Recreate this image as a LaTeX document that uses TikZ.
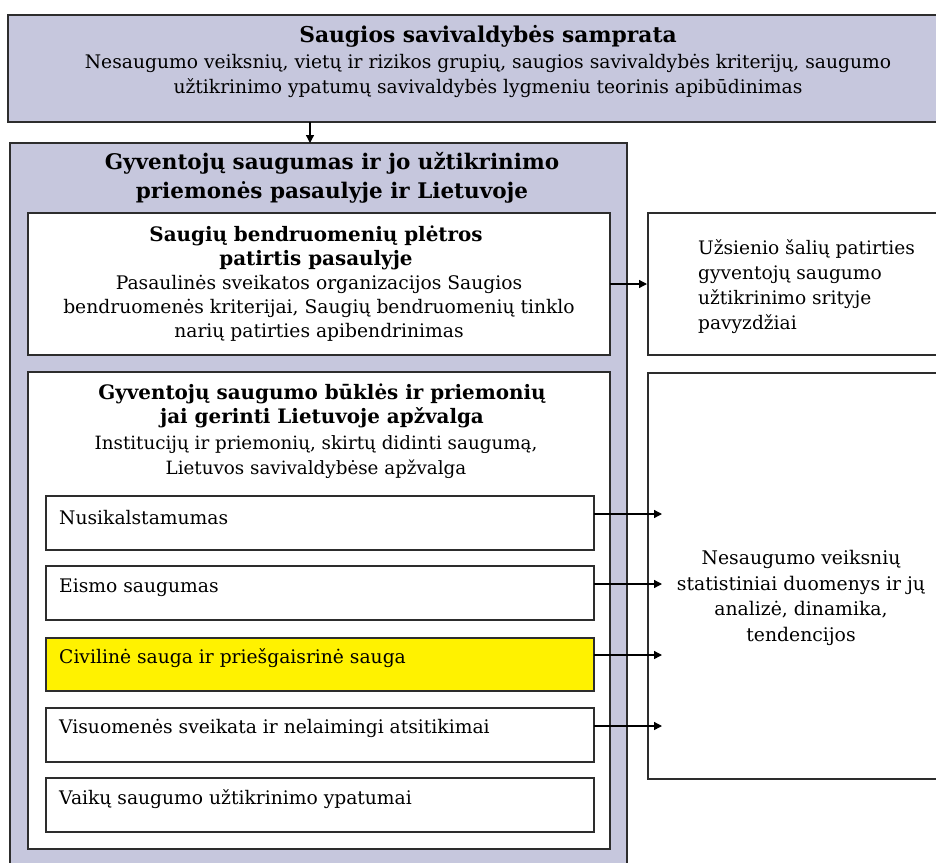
\documentclass[tikz,border=0pt]{standalone}
\usepackage{fontspec}
\setmainfont{DejaVu Serif}
\usetikzlibrary{arrows.meta}
\definecolor{lav}{RGB}{198,199,221}
\definecolor{ylw}{RGB}{255,242,0}
\definecolor{edge}{RGB}{45,45,45}
\tikzset{
  box/.style={draw=edge, line width=1.8pt, anchor=north west, inner sep=0pt, outer sep=0pt},
  lavbox/.style={box, fill=lav},
  whitebox/.style={box, fill=white, line width=1.5pt},
  subbox/.style={box, fill=white, line width=1.5pt},
  txt/.style={inner sep=0pt, align=center, font=\fontsize{18.7}{25}\selectfont},
  btxt/.style={inner sep=0pt, align=center, font=\fontsize{19.9}{24}\selectfont\bfseries},
  ltxt/.style={inner sep=0pt, anchor=west, font=\fontsize{18.7}{25}\selectfont},
  arr/.style={-{Triangle[length=8pt,width=8pt]}, line width=1.3pt, draw=black},
}
\begin{document}
\begin{tikzpicture}[x=1pt,y=-1pt]
\clip (0,0) rectangle (936,862);
\fill[white] (0,0) rectangle (936,862);
% top box
\node[lavbox, line width=2.2pt, minimum width=945pt, minimum height=107pt] (top) at (8,15) {};
\node[btxt, font=\fontsize{21.8}{25}\selectfont\bfseries] (toptitle) at (488,36) {Saugios savivaldybės samprata};
\node[txt] (toptext) at (488,76) {Nesaugumo veiksnių, vietų ir rizikos grupių, saugios savivaldybės kriterijų, saugumo\\užtikrinimo ypatumų savivaldybės lygmeniu teorinis apibūdinimas};
% main box
\node[lavbox, minimum width=617pt, minimum height=730pt] (main) at (10,143) {};
\node[btxt, font=\fontsize{21.5}{29}\selectfont\bfseries] (maintitle) at (332,178) {Gyventojų saugumas ir jo užtikrinimo\\priemonės pasaulyje ir Lietuvoje};
% inner box 1
\node[whitebox, minimum width=582pt, minimum height=142pt] (in1) at (28,213) {};
\node[btxt] (in1title) at (316,248) {Saugių bendruomenių plėtros\\patirtis pasaulyje};
\node[txt, font=\fontsize{18.7}{24}\selectfont] (in1text) at (319,308) {Pasaulinės sveikatos organizacijos Saugios\\bendruomenės kriterijai, Saugių bendruomenių tinklo\\narių patirties apibendrinimas};
% right box 1
\node[box, fill=white, minimum width=300pt, minimum height=142pt] (r1) at (648,213) {};
\node[txt, align=left, anchor=north west, font=\fontsize{18.6}{25}\selectfont] (r1text) at (698,239) {Užsienio šalių patirties\\gyventojų saugumo\\užtikrinimo srityje\\pavyzdžiai};
% inner box 2
\node[whitebox, minimum width=582pt, minimum height=477pt] (in2) at (28,372) {};
\node[btxt] (in2title) at (322,406) {Gyventojų saugumo būklės ir priemonių\\jai gerinti Lietuvoje apžvalga};
\node[txt, font=\fontsize{18.3}{25}\selectfont] (in2text) at (316,457) {Institucijų ir priemonių, skirtų didinti saugumą,\\Lietuvos savivaldybėse apžvalga};
% sub boxes
\node[subbox, minimum width=548pt, minimum height=54pt] (s1) at (46,496) {};
\node[ltxt] (s1t) at (59,518) {Nusikalstamumas};
\node[subbox, minimum width=548pt, minimum height=54pt] (s2) at (46,566) {};
\node[ltxt] (s2t) at (59,588) {Eismo saugumas};
\node[subbox, fill=ylw, minimum width=548pt, minimum height=53pt] (s3) at (46,638) {};
\node[ltxt] (s3t) at (59,658) {Civilinė sauga ir priešgaisrinė sauga};
\node[subbox, minimum width=548pt, minimum height=54pt] (s4) at (46,708) {};
\node[ltxt] (s4t) at (59,728) {Visuomenės sveikata ir nelaimingi atsitikimai};
\node[subbox, minimum width=548pt, minimum height=54pt] (s5) at (46,778) {};
\node[ltxt] (s5t) at (59,799) {Vaikų saugumo užtikrinimo ypatumai};
% right box 2
\node[box, fill=white, minimum width=300pt, minimum height=406pt] (r2) at (648,373) {};
\node[txt, font=\fontsize{18.8}{25.5}\selectfont] (r2text) at (801,598) {Nesaugumo veiksnių\\statistiniai duomenys ir jų\\analizė, dinamika,\\tendencijos};
% connectors
\coordinate (ta) at (310,143);
\draw[arr] (top.south -| ta) -- (ta);
\coordinate (ra) at (647,284);
\draw[arr] (in1.east |- ra) -- (ra);
\coordinate (c1) at (662,514);
\coordinate (c2) at (662,584);
\coordinate (c3) at (662,655);
\coordinate (c4) at (662,726);
\draw[arr] (s1.east |- c1) -- (c1);
\draw[arr] (s2.east |- c2) -- (c2);
\draw[arr] (s3.east |- c3) -- (c3);
\draw[arr] (s4.east |- c4) -- (c4);
\end{tikzpicture}
\end{document}
